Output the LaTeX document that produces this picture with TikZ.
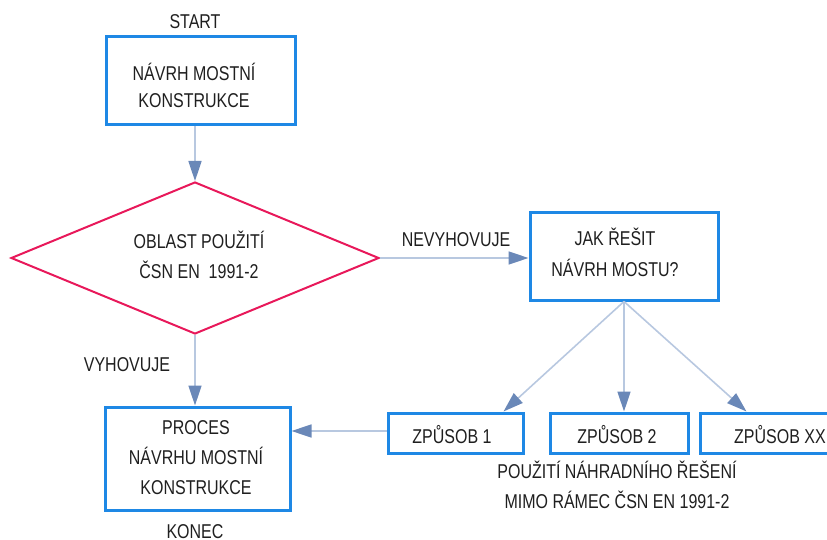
\documentclass[tikz,border=0pt]{standalone}
\usepackage{fontspec}
\setmainfont{Liberation Sans}[FakeStretch=0.8]
\usetikzlibrary{shapes.geometric,arrows.meta}
\definecolor{boxblue}{HTML}{1E88E5}
\definecolor{diared}{HTML}{E8185A}
\definecolor{linkline}{HTML}{B8C8E0}
\definecolor{linkhead}{HTML}{6A88B8}
\definecolor{ink}{HTML}{1F1F1F}
\begin{document}
\begin{tikzpicture}[x=1pt,y=-1pt,
  every node/.style={text=ink},
  txt/.style={inner sep=0pt,align=center,font=\fontsize{20}{#1}\selectfont},
  txt/.default=30,
  box/.style={draw=boxblue,line width=3pt,rectangle,inner sep=0pt},
  decision/.style={draw=diared,line width=2pt,diamond,inner sep=0pt},
  link/.style={draw=linkline,line width=1.6pt,
    -{Triangle[length=20pt,width=13pt,color=linkhead]}}]
\useasboundingbox (0,0) rectangle (827,540);

% shapes
\node[box,minimum width=189,minimum height=88] (b1) at (200.5,81) {};
\node[decision,minimum width=368,minimum height=152] (dia) at (195,258) {};
\node[box,minimum width=188,minimum height=87] (b2) at (624,256.5) {};
\node[box,minimum width=185,minimum height=103] (b3) at (197.5,458.5) {};
\node[box,minimum width=135,minimum height=40] (z1) at (455.5,433) {};
\node[box,minimum width=138,minimum height=40] (z2) at (619,433) {};
\node[box,minimum width=200,minimum height=40] (zx) at (800,433) {};

% texts
\node[txt] (tstart) at (195,22) {START};
\node[txt=27] (t1) at (194,85) {NÁVRH MOSTNÍ\\KONSTRUKCE};
\node[txt] (tdia) at (199,255) {OBLAST POUŽITÍ\\ČSN EN\ \ 1991-2};
\node[txt=31] (t2) at (615,252) {JAK ŘEŠIT\\NÁVRH MOSTU?};
\node[txt] (t3) at (196,458) {PROCES\\NÁVRHU MOSTNÍ\\KONSTRUKCE};
\node[txt] (tz1) at (452,435) {ZPŮSOB 1};
\node[txt] (tz2) at (617,435) {ZPŮSOB 2};
\node[txt] (tzx) at (780,435) {ZPŮSOB XX};
\node[txt] (tno) at (456,240) {NEVYHOVUJE};
\node[txt] (tyes) at (127,365) {VYHOVUJE};
\node[txt] (tend) at (195,532) {KONEC};
\node[txt] (talt) at (617,485) {POUŽITÍ NÁHRADNÍHO ŘEŠENÍ\\MIMO RÁMEC ČSN EN 1991-2};

% connectors
\draw[link] (dia.north |- b1.south) -- (dia.north);
\draw[link] (dia.east) -- (dia.east -| b2.west);
\draw[link] (dia.south) -- (dia.south |- b3.north);
\draw[link] (b2.south) -- ([xshift=-21pt]z1.north east);
\draw[link] (b2.south) -- (b2.south |- z2.north);
\draw[link] (b2.south) -- ([xshift=48pt]zx.north west);
\draw[link] ([yshift=2pt]z1.west) -- ([yshift=2pt]z1.west -| b3.east);
\end{tikzpicture}
\end{document}
